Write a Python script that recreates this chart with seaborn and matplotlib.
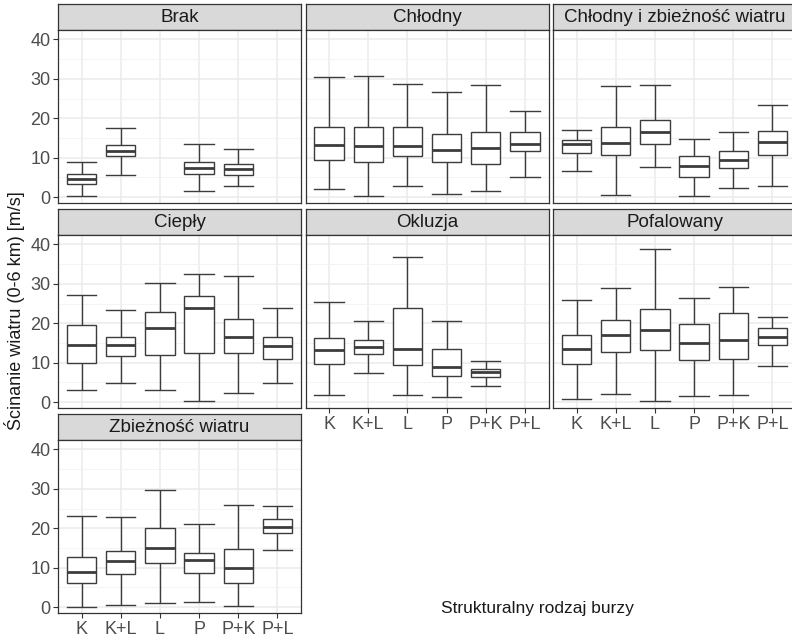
import numpy as np
import pandas as pd
import matplotlib
matplotlib.use("Agg")
import matplotlib.pyplot as plt
from matplotlib.ticker import FixedLocator
import seaborn as sns

plt.rcParams['font.family'] = ['Liberation Sans', 'DejaVu Sans']

categories = ["K", "K+L", "L", "P", "P+K", "P+L"]
facets = ["Brak", "Chłodny", "Chłodny i zbieżność wiatru", "Ciepły",
          "Okluzja", "Pofalowany", "Zbieżność wiatru"]
y_ticks = [0, 10, 20, 30, 40]
x_title = "Strukturalny rodzaj burzy"
y_title = "Ścinanie wiatru (0-6 km) [m/s]"

# five-number summaries per category: [min, Q1, median, Q3, max]
brak = {"K": [0.2, 3.4, 4.6, 5.8, 8.8], "K+L": [5.6, 10.3, 11.8, 13.2, 17.5],
        "P": [1.5, 5.9, 7.3, 8.9, 13.5], "P+K": [2.9, 5.6, 7.1, 8.5, 12.2]}
chlodny = {"K": [2.1, 9.5, 13.3, 17.9, 30.5], "K+L": [0.2, 8.8, 12.9, 17.7, 30.8],
           "L": [2.8, 10.5, 13.0, 17.9, 28.7], "P": [0.8, 8.9, 11.9, 16.1, 26.7],
           "P+K": [1.6, 8.4, 12.4, 16.5, 28.4], "P+L": [5.2, 11.7, 13.5, 16.4, 21.8]}
chlodny_zb = {"K": [6.7, 11.1, 13.4, 14.4, 17.1], "K+L": [0.6, 10.8, 13.7, 17.8, 28.2],
              "L": [7.6, 13.4, 16.5, 19.5, 28.4], "P": [0.2, 5.2, 7.9, 10.3, 14.8],
              "P+K": [2.4, 7.5, 9.3, 11.7, 16.6], "P+L": [2.9, 10.7, 13.9, 16.7, 23.4]}
cieply = {"K": [3.0, 9.9, 14.6, 19.6, 27.2], "K+L": [4.9, 11.8, 14.4, 16.4, 23.3],
          "L": [3.1, 12.0, 18.7, 22.8, 30.3], "P": [0.4, 12.4, 23.8, 26.9, 32.5],
          "P+K": [2.3, 12.4, 16.5, 21.2, 32.0], "P+L": [4.9, 10.9, 14.3, 16.5, 23.9]}
okluzja = {"K": [1.9, 9.7, 13.2, 16.2, 25.5], "K+L": [7.4, 12.1, 14.0, 15.8, 20.5],
           "L": [1.7, 9.5, 13.4, 23.9, 36.8], "P": [1.3, 6.5, 8.8, 13.5, 20.5],
           "P+K": [4.1, 6.4, 7.6, 8.3, 10.4]}
pofalowany = {"K": [0.7, 9.6, 13.4, 17.0, 25.9], "K+L": [2.0, 12.6, 16.9, 20.8, 29.0],
              "L": [0.3, 13.3, 18.4, 23.6, 38.9], "P": [1.6, 10.7, 15.0, 19.9, 26.3],
              "P+K": [1.8, 10.9, 15.8, 22.5, 29.2], "P+L": [9.1, 14.5, 16.6, 18.8, 21.6]}
zbieznosc = {"K": [0.1, 6.0, 8.8, 12.7, 23.0], "K+L": [0.5, 8.5, 11.6, 14.3, 22.8],
             "L": [1.1, 11.1, 14.9, 20.1, 29.8], "P": [1.4, 8.6, 12.0, 13.7, 21.2],
             "P+K": [0.3, 6.2, 9.9, 14.7, 26.0], "P+L": [14.4, 18.8, 20.3, 22.4, 25.7]}

summaries = [brak, chlodny, chlodny_zb, cieply, okluzja, pofalowany, zbieznosc]

rows = []
for fname, summ in zip(facets, summaries):
    for cat, vals in summ.items():
        for v in vals:
            rows.append({"typ": fname, "rodzaj": cat, "v": v})
df = pd.DataFrame(rows)

W, H = 792, 637
fig = plt.figure(figsize=(W / 100, H / 100), dpi=100)

def add_px(l, t, r, b, **kw):
    return fig.add_axes([l / W, 1 - b / H, (r - l) / W, (b - t) / H], **kw)

cols = [(58, 301), (305.5, 548.5), (553, 796)]
rows_px = [(4, 30, 203), (209, 235, 408), (414, 440, 613)]
edge = "#333333"
boxline = "#3C3C3C"

for i, fname in enumerate(facets):
    r, c = divmod(i, 3)
    l, rr = cols[c]
    st, pt, pb = rows_px[r]
    # strip
    sax = add_px(l, st, rr, pt)
    sax.set_facecolor("#D9D9D9")
    sax.set_xticks([]); sax.set_yticks([])
    for s in sax.spines.values():
        s.set_color(edge); s.set_linewidth(0.9)
    sax.text(0.5, 0.47, fname, transform=sax.transAxes, ha="center", va="center",
             fontsize=13.5, color="#1A1A1A")
    # panel
    ax = add_px(l, pt, rr, pb)
    sub = df[df["typ"] == fname]
    kws = dict(data=sub, x="rodzaj", y="v", order=categories, whis=(0, 100),
               width=0.75, color="white", linecolor=boxline, linewidth=1.0,
               medianprops={"linewidth": 2.0}, showfliers=False, ax=ax)
    try:
        sns.boxplot(capwidths=0.75, **kws)
    except Exception:
        ax.cla()
        sns.boxplot(**kws)
    ax.set_xlim(-0.6, 5.6)
    ax.set_ylim(-1.5, 42.4)
    ax.set_xlabel(""); ax.set_ylabel("")
    ax.set_facecolor("white")
    ax.set_axisbelow(True)
    ax.yaxis.set_major_locator(FixedLocator(y_ticks))
    ax.yaxis.set_minor_locator(FixedLocator([5, 15, 25, 35]))
    ax.set_xticks(range(len(categories)))
    ax.set_xticklabels(categories)
    ax.grid(which="major", color="#EBEBEB", linewidth=1.1)
    ax.grid(which="minor", axis="y", color="#F2F2F2", linewidth=0.6)
    for s in ax.spines.values():
        s.set_color(edge); s.set_linewidth(0.9)
    ax.tick_params(which="minor", length=0)
    ax.tick_params(axis="both", colors=edge, labelcolor="#4D4D4D",
                   labelsize=13, length=3.5, width=0.8, pad=2)
    if c != 0:
        ax.tick_params(axis="y", length=0, labelleft=False)
    bottom = (r == 2) or (r == 1 and c in (1, 2))
    if not bottom:
        ax.tick_params(axis="x", length=0, labelbottom=False)

fig.text(15 / W, 1 - 311 / H, y_title, rotation=90, ha="center", va="center",
         fontsize=13, color="#1A1A1A")
fig.text(537 / W, 1 - 609 / H, x_title, ha="center", va="center",
         fontsize=12.5, color="#1A1A1A")

fig.savefig("out.png", dpi=100, facecolor="white")
